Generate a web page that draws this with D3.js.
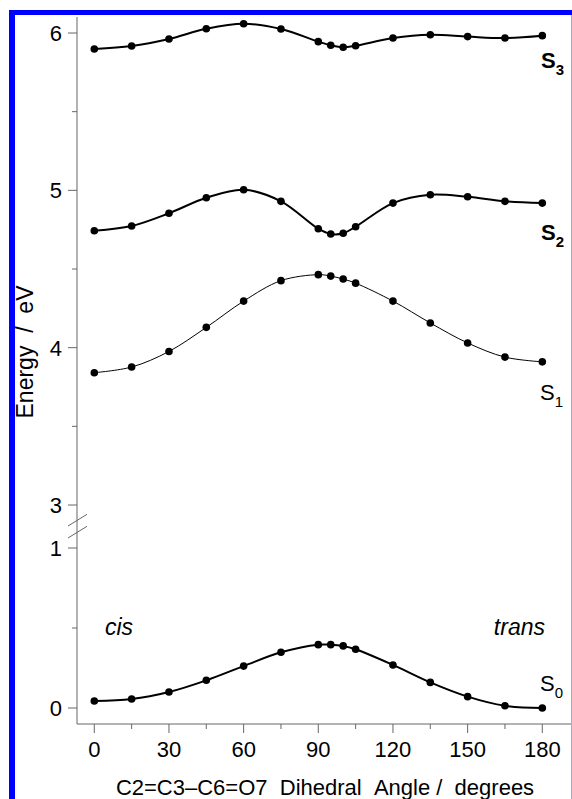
<!DOCTYPE html>
<html>
<head>
<meta charset="utf-8">
<script src="https://cdn.jsdelivr.net/npm/d3@7"></script>
<style>
  body { margin: 0; background: #fff; }
  text { font-family: Arial, "Liberation Sans", sans-serif; }
</style>
</head>
<body>
<div id="chart"></div>
<script>
// dihedral angles (degrees)
var angles = [ 0, 15, 30, 45, 60, 75, 90, 95, 100, 105, 120, 135, 150, 165, 180 ];

// state energies (eV)
var s0 = [ 0.044, 0.056, 0.10, 0.173, 0.262, 0.348, 0.396, 0.396, 0.388, 0.367, 0.269, 0.16, 0.071, 0.014, 0.0 ];
var s1 = [ 3.841, 3.877, 3.976, 4.129, 4.296, 4.426, 4.464, 4.455, 4.436, 4.41, 4.296, 4.157, 4.03, 3.94, 3.91 ];
var s2 = [ 4.743, 4.773, 4.854, 4.953, 5.004, 4.930, 4.756, 4.722, 4.727, 4.769, 4.919, 4.972, 4.959, 4.930, 4.919 ];
var s3 = [ 5.898, 5.917, 5.962, 6.027, 6.059, 6.025, 5.945, 5.922, 5.909, 5.919, 5.968, 5.989, 5.977, 5.968, 5.983 ];

var xTicks = [ 0, 30, 60, 90, 120, 150, 180 ];
var xMinor = [ 15, 45, 75, 105, 135, 165 ];
var upperTicks = [ 3, 4, 5, 6 ];
var upperMinor = [ 3.5, 4.5, 5.5 ];
var lowerTicks = [ 0, 1 ];
var lowerMinor = [ 0.5 ];

var width = 572, height = 799;
var axisColor = "#666";
var sp = "\u00a0";

var svg = d3.select( "#chart" ).append( "svg" )
  .attr( "width", width )
  .attr( "height", height );

// blue frame
svg.append( "rect" ).attr( "x", 9 ).attr( "y", 10 ).attr( "width", 6 ).attr( "height", height - 10 ).style( "fill", "#0000ff" );
svg.append( "rect" ).attr( "x", 9 ).attr( "y", 10 ).attr( "width", width - 9 ).attr( "height", 5 ).style( "fill", "#0000ff" );
svg.append( "line" ).attr( "x1", 571.5 ).attr( "y1", 15 ).attr( "x2", 571.5 ).attr( "y2", height )
  .style( "stroke", "#aab" ).style( "stroke-width", 1 );

// scales
var x = d3.scaleLinear().domain( [ 0, 180 ] ).range( [ 94.3, 542.3 ] );
var yUp = d3.scaleLinear().domain( [ 3, 6 ] ).range( [ 505, 33 ] );
var yLo = d3.scaleLinear().domain( [ 0, 1 ] ).range( [ 708, 548 ] );

var axisX0 = 77, axisY0 = 724;

// axis lines
svg.append( "line" )
  .attr( "x1", axisX0 ).attr( "y1", 17 ).attr( "x2", axisX0 ).attr( "y2", axisY0 )
  .style( "stroke", axisColor ).style( "stroke-width", 1 );
svg.append( "line" )
  .attr( "x1", axisX0 ).attr( "y1", axisY0 ).attr( "x2", 571 ).attr( "y2", axisY0 )
  .style( "stroke", axisColor ).style( "stroke-width", 1 );

// y ticks
function yTicks( scale, major, minor ) {
  svg.selectAll( null ).data( major ).enter().append( "line" )
    .attr( "x1", axisX0 - 9 ).attr( "x2", axisX0 )
    .attr( "y1", d => scale( d ) ).attr( "y2", d => scale( d ) )
    .style( "stroke", axisColor );
  svg.selectAll( null ).data( minor ).enter().append( "line" )
    .attr( "x1", axisX0 - 5 ).attr( "x2", axisX0 )
    .attr( "y1", d => scale( d ) ).attr( "y2", d => scale( d ) )
    .style( "stroke", axisColor );
  svg.selectAll( null ).data( major ).enter().append( "text" )
    .attr( "x", 62 ).attr( "y", d => scale( d ) )
    .attr( "dy", "0.36em" )
    .attr( "text-anchor", "end" )
    .style( "font-size", "22px" )
    .text( d => d );
}
yTicks( yUp, upperTicks, upperMinor );
yTicks( yLo, lowerTicks, lowerMinor );

// axis break marks
[ 0, 12 ].forEach( function( off ) {
  svg.append( "line" )
    .attr( "x1", 68 ).attr( "y1", 526 + off ).attr( "x2", 87 ).attr( "y2", 514.3 + off )
    .style( "stroke", axisColor ).style( "stroke-width", 1 );
} );

// x ticks
svg.selectAll( null ).data( xTicks ).enter().append( "line" )
  .attr( "x1", d => x( d ) ).attr( "x2", d => x( d ) )
  .attr( "y1", axisY0 ).attr( "y2", axisY0 + 9 )
  .style( "stroke", axisColor );
svg.selectAll( null ).data( xMinor ).enter().append( "line" )
  .attr( "x1", d => x( d ) ).attr( "x2", d => x( d ) )
  .attr( "y1", axisY0 ).attr( "y2", axisY0 + 5 )
  .style( "stroke", axisColor );
svg.selectAll( null ).data( xTicks ).enter().append( "text" )
  .attr( "x", d => x( d ) ).attr( "y", 757 )
  .attr( "text-anchor", "middle" )
  .style( "font-size", "22px" )
  .text( d => d );

// axis titles
svg.append( "text" )
  .attr( "x", 325 ).attr( "y", 795 )
  .attr( "text-anchor", "middle" )
  .style( "font-size", "22px" )
  .text( "C2=C3\u2013C6=O7" + sp + sp + "Dihedral" + sp + sp + "Angle" + sp + "/" + sp + sp + "degrees" );

svg.append( "text" )
  .attr( "transform", "translate(33,352) rotate(-90)" )
  .attr( "text-anchor", "middle" )
  .style( "font-size", "23px" )
  .text( "Energy" + sp + sp + "/" + sp + sp + "eV" );

// curves
var series = [
  { values: s3, scale: yUp, w: 2 },
  { values: s2, scale: yUp, w: 2 },
  { values: s1, scale: yUp, w: 1 },
  { values: s0, scale: yLo, w: 2 }
];

series.forEach( function( s ) {
  var pts = angles.map( ( a, i ) => [ a, s.values[ i ] ] );
  var line = d3.line()
    .x( d => x( d[ 0 ] ) )
    .y( d => s.scale( d[ 1 ] ) )
    .curve( d3.curveCatmullRom.alpha( 0.5 ) );
  svg.append( "path" )
    .datum( pts )
    .attr( "d", line )
    .style( "fill", "none" )
    .style( "stroke", "#000" )
    .style( "stroke-width", s.w );
  svg.selectAll( null ).data( pts ).enter().append( "circle" )
    .attr( "cx", d => x( d[ 0 ] ) )
    .attr( "cy", d => s.scale( d[ 1 ] ) )
    .attr( "r", 3.8 )
    .style( "fill", "#000" );
} );

// state labels
function stateLabel( xp, yp, n, bold ) {
  var t = svg.append( "text" )
    .attr( "x", xp ).attr( "y", yp )
    .style( "font-size", "22px" )
    .style( "font-weight", bold ? "bold" : "normal" );
  t.append( "tspan" ).text( "S" );
  t.append( "tspan" ).attr( "dy", 7 ).style( "font-size", "15px" ).text( n );
}
stateLabel( 541, 68, "3", true );
stateLabel( 541, 240, "2", true );
stateLabel( 540, 400, "1", false );
stateLabel( 540, 691, "0", false );

// conformer labels
svg.append( "text" )
  .attr( "x", 105 ).attr( "y", 635 )
  .style( "font-size", "23px" ).style( "font-style", "italic" )
  .text( "cis" );
svg.append( "text" )
  .attr( "x", 545 ).attr( "y", 635 )
  .attr( "text-anchor", "end" )
  .style( "font-size", "23px" ).style( "font-style", "italic" )
  .text( "trans" );
</script>
</body>
</html>
